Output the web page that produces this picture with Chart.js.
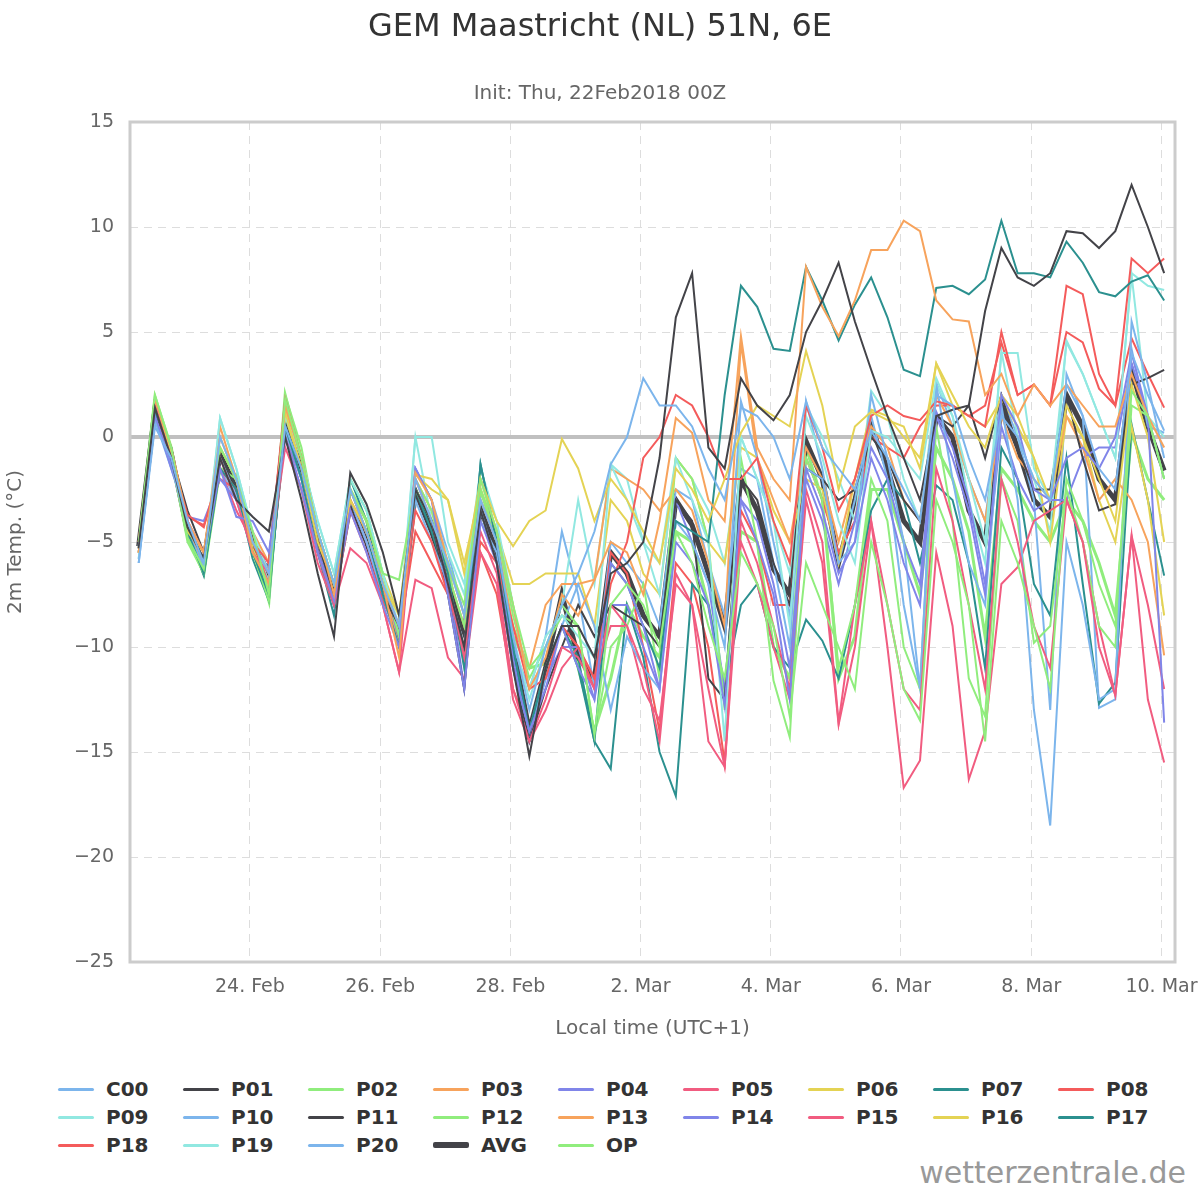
<!DOCTYPE html>
<html>
<head>
<meta charset="utf-8">
<script src="https://cdn.jsdelivr.net/npm/chart.js@4.4.0/dist/chart.umd.min.js"></script>
<style>
  body { margin: 0; background: #fff; font-family: "DejaVu Sans", sans-serif; }
  #wrap { position: relative; width: 1200px; height: 1200px; }
  #title { position: absolute; top: 6px; width: 1200px; text-align: center; font-size: 32px; color: #333; }
  #sub { position: absolute; top: 80px; width: 1200px; text-align: center; font-size: 20px; color: #666; }
  canvas { position: absolute; left: 0; top: 0; }
  #legend { position: absolute; left: 58px; top: 1078px; display: grid; grid-template-columns: repeat(9, 125px); row-gap: 6px; }
  .item { display: flex; align-items: center; font-weight: bold; font-size: 20px; color: #333; height: 22px; }
  .sw { width: 36px; margin-right: 12px; border-radius: 2px; }
  #credit { position: absolute; right: 14px; bottom: 10px; font-size: 30px; color: #999; }
</style>
</head>
<body>
<div id="wrap">
  <canvas id="c" width="1200" height="1045"></canvas>
  <div id="title">GEM Maastricht (NL) 51N, 6E</div>
  <div id="sub">Init: Thu, 22Feb2018 00Z</div>
  <div id="legend"></div>
  <div id="credit">wetterzentrale.de</div>
</div>
<script>
// hours since 22 Feb 00:00 local, 6-hourly from 07:00
const times = Array.from({length: 64}, (_, i) => 7 + 6 * i);
const tickHours = [48, 96, 144, 192, 240, 288, 336, 384];
const tickLabels = ['24. Feb', '26. Feb', '28. Feb', '2. Mar', '4. Mar', '6. Mar', '8. Mar', '10. Mar'];

const C00 = [-6,0.5,-1,-4,-6,0,-2,-5,-6.5,0.5,-1.5,-4.5,-7,-2.5,-4.5,-7,-9,-2,-4,-6,-8.5,-3,-5,-9.5,-13,-10,-8,-6.5,-4.5,-1.3,0,2.8,1.5,1.5,0.5,-1.5,-3,1.4,1,0,-2,1.7,-0.5,-1.5,-2.5,0.3,-1,-2.5,-4,2,1.5,-1,-3,1,0,-2,-3,2.5,1,-1.5,-2.5,4,2,0.3];
const P01 = [-5.3,1.4,-1,-4.3,-5.8,-1,-3,-3.8,-4.5,0,-3,-6.5,-9.5,-1.7,-3.2,-5.5,-8.5,-2.5,-4,-7,-10,-3.5,-6,-11,-15.2,-11,-9,-9,-10.5,-6.5,-6,-5,-1,5.7,7.8,-0.5,-1.5,2.8,1.5,0.8,2,5,6.5,8.3,5.5,3.2,1,-1,-3,1,1.3,1.5,6,9,7.6,7.2,7.8,9.8,9.7,9,9.8,12,10,7.8];
const P02 = [-5,2,-0.5,-4.8,-6.3,-0.5,-2,-4.5,-7.5,1.8,-1,-4.5,-7,-2.5,-4,-6.5,-6.8,-2.5,-4,-6,-8,-2,-4.5,-8,-11,-10,-8,-9,-14.2,-8,-7,-8,-10,-4.5,-6,-9,-11.5,-5.5,-7,-9,-13.3,-6,-8,-10,-12,-5,-8,-12,-13.5,-3,-5,-8,-14.5,-4,-6,-9,-12,-2,-4,-7,-9,2.2,1,-2];
const P03 = [-5.5,1.8,-0.5,-4,-5.5,0,-2,-5.5,-7,1.5,-1,-4.5,-7.5,-2.5,-4.5,-7,-10.5,-1.7,-3,-6,-8.5,-2,-4.5,-8,-12,-10.5,-7.5,-8.5,-6.8,-5,-5.5,-7.5,-4,0.9,0.2,-3,-4,4.8,-0.5,-2,-3,8.1,6.2,4.8,6.5,8.9,8.9,10.3,9.8,6.5,5.6,5.5,2,3,1,2.5,1.5,2.5,1.5,0.5,0.5,3,1,-0.5];
const P04 = [-5.2,1,-1.2,-4,-6,-1.5,-3.8,-4,-5.5,0,-2.5,-5.5,-7.8,-3.5,-5.5,-8,-10,-1.5,-3,-7.5,-12,-4,-6,-11,-14,-12,-9,-11,-12.5,-6,-7,-9,-12,-5,-6,-8,-12.8,-3,-5,-7.5,-12.5,-1.5,-3.5,-6.5,-5,-1,-3,-6,-8,1,-1,-3.5,-7.5,2,0.5,-2.5,-3,-1,-0.5,-1.5,0,4,1,-13.6];
const P05 = [-5,1.5,-1,-4,-5.5,-1,-3,-5.5,-6.5,0,-2.5,-5.5,-8,-3.5,-5.5,-8,-11.2,-2,-4,-7,-10.5,-4.5,-6.5,-12,-14.5,-12.5,-10,-10.5,-12,-8,-9,-11,-14.5,-6.5,-8,-12,-15.7,-4,-6,-9,-12,-3,-6,-13.7,-10,-4,-8,-12,-13,-1.5,-4,-8,-12,-2,-5,-9,-11,-3,-5,-10,-12.3,-4.7,-12.5,-15.5];
const P06 = [-5.5,1.8,-0.8,-4.5,-5.5,-0.5,-2,-5,-6.5,1.2,-1.5,-5,-7,-3,-4.5,-7,-8.5,-1.8,-2,-3,-6.5,-2,-4,-5.2,-4,-3.5,-0.1,-1.5,-4,-2,-3,-4.5,-6,-1.5,-2.5,-4,-2,0.2,1.5,1,0.5,4.1,1.5,-2.5,0.5,1.2,0.8,0.5,-1.5,3.5,2,0.5,-0.5,2,1,-1,-3,1.5,0,-2,-4,2.5,0,-5];
const P07 = [-5.3,1.2,-0.5,-4.5,-6.5,-1.5,-2.5,-5.5,-7.5,0.5,-2,-5.5,-8,-2.5,-4.5,-7.5,-10,-2.5,-4,-6.5,-11,-1.3,-5,-10,-14,-11,-9,-11,-14.5,-6,-7,-9,-11,-4,-4.5,-5,2,7.2,6.2,4.2,4.1,8.1,6.5,4.6,6.3,7.6,5.7,3.2,2.9,7.1,7.2,6.8,7.5,10.3,7.8,7.8,7.6,9.3,8.3,6.9,6.7,7.4,7.7,6.5];
const P08 = [-5,1.5,-1,-3.7,-4.3,-1.5,-2.5,-5,-6,1.8,-1,-4.5,-7,-3,-4.5,-7,-9,-3.5,-5,-7.5,-10,-5,-6,-9,-12,-11.5,-9,-10,-11.5,-7,-5,-1,0,2,1.5,0,-2,-2,-1,-4,-6,1.5,-0.5,-3.5,-2,1,1.5,1,0.8,1.7,1.5,1,0.5,5,2,2.5,1.5,7.2,6.8,3,1.5,8.5,7.8,8.5];
const P09 = [-5.5,1.8,-1,-4,-6,0.9,-1.5,-4.5,-6.5,1,-1,-4,-6.5,-2,-3.5,-6.5,-9,0,0,-5,-7,-2,-4,-8,-12,-9.5,-8.5,-9.5,-10.5,-1.3,-3,-5,-7.5,-1,-3,-5,-14.5,0,-2,-4,-9,1,-1,-4,-6,0.3,0,-1,-2,2.8,1,-2,-5,4,4,-1.5,-3,4.5,3,1,-1,7.8,7.2,7];
const P10 = [-6,0.8,-1.2,-4.5,-6.2,-1,-2.8,-5.5,-7,0.5,-2,-5.5,-8,-3,-5,-7.5,-10,-3,-5,-7,-10,-3.5,-6,-11,-14,-11.5,-9,-7,-9,-13,-9.5,-11,-12,-4,-5,-7,-10,1.7,-1,-5,-8.5,-1.5,-2,-6,-5,2,-1,-5,-12,2.5,-2,-6,-8,1.5,-3,-13,-18.5,-5,-8,-12.5,-12,5.5,2.5,-1];
const P11 = [-5.2,1.2,-0.8,-3.5,-5.5,-1,-2.5,-4.8,-6.5,0.5,-1.5,-5,-7.5,-3.2,-4.5,-7.5,-9,-2.5,-4,-7.5,-12,-3.5,-6,-11,-14.5,-12,-10,-8,-9.5,-8,-8.5,-9,-10,-3,-4,-11.5,-12.5,-2,-3,-6,-8,-1.5,-2,-3,-2.5,0,-1,-3,-4,1,0.5,1.5,-1,2,-0.5,-2.5,-2.5,2,-1,-3.5,-3.2,2.5,2.8,3.2];
const P12 = [-5.2,1.8,-1,-5,-6.5,-1.5,-2,-5.5,-7.8,2,-0.5,-4.5,-7,-2,-3.5,-6.5,-9.5,-2,-3.5,-6.5,-9,-2.5,-4.5,-8.5,-11.5,-10,-8.5,-9,-14.2,-10,-9,-7,-11.5,-1,-2,-5,-13,-1,-5,-11.6,-14.3,-1,-3,-11,-8,-2,-4,-10,-12,0.5,-4,-11.5,-13.3,-2,-4,-9.8,-9,-2.5,-5,-9,-10,1.5,1,-2];
const P13 = [-5.5,1.6,-1,-4.5,-6,0.5,-2,-4.5,-6,1.5,-1,-4.5,-7,-3,-4.5,-7,-10,-2,-3.5,-6.5,-9,-3,-5,-9,-11,-8,-7,-7,-6.8,-1.5,-2,-2.5,-3.5,-2.5,-3.5,-6,-9,4.5,-1,-3,-5,-0.5,-2,-5,-2,0.5,-0.5,-3,-4,2,0.5,-2,-4,1,-1,-2,-3,1,-0.5,-3,-2,-3,-5,-10.4];
const P14 = [-5.5,1,-1.5,-3.8,-4,-2,-3,-5,-6.3,0,-2,-5,-8,-3,-5,-7.5,-9.5,-1.5,-3,-6.5,-12,-3,-5,-10.5,-14.5,-11.5,-10,-10,-12.5,-8,-8,-10,-12,-3,-5,-7,-12,-3,-4,-7,-11,-2,-4,-7,-4,-0.5,-2,-5,-7,1.2,-0.5,-3,-7,0.5,-2,-3.5,-3,-3,-1,-0.5,-0.5,3.5,1,-2];
const P15 = [-5.5,1.2,-1.2,-4,-6,-1.5,-3.5,-5,-6,-0.5,-2.5,-6,-8,-5.3,-6,-8,-11.2,-6.8,-7.2,-10.5,-11.5,-5.5,-7,-12.5,-14.5,-13,-11,-10,-11.5,-9,-9,-12,-13.5,-7,-8,-14.5,-15.7,-5,-7,-10,-12.5,-2.5,-5,-13.6,-8,-4,-10,-16.7,-15.4,-5.5,-9,-16.3,-14,-7,-6.2,-4,-3.5,-3,-5,-9,-12.3,-4.7,-8,-12];
const P16 = [-5.3,1.5,-1,-4.8,-6,-0.5,-2,-5.3,-7.2,1,-1.5,-5,-7.5,-2.5,-4,-6.5,-8.5,-1.8,-2.5,-3,-6,-2.5,-4.5,-7,-7,-6.5,-6.5,-6.5,-9,-3,-4,-6.5,-7.5,-1,-2,-5,-6,-0.5,-1,-3.5,-5,-2,-2.5,-6,-2,1.3,1,0,-1,3.5,1.5,1,0.5,1.8,0.5,-1,-5,1,0,-3,-5,0.5,-3,-8.5];
const P17 = [-5.5,1.5,-0.5,-4.5,-6.6,-1,-2.5,-5.8,-7.8,1,-1.5,-5.5,-8.5,-2,-4,-7.5,-9.8,-2.5,-4.5,-7,-10.5,-1.3,-5,-10.5,-14,-11,-9,-10.5,-14.5,-15.8,-8,-10.5,-15,-17.1,-7,-8,-12,-8,-7,-10,-11,-8.7,-9.7,-11.5,-8,-3.5,-2,-3,-6,-2.3,-3,-6,-11,-0.5,-2,-7,-8.5,-1,-7,-12.7,-11.7,0.6,-3,-6.6];
const P18 = [-5.3,1.5,-1,-3.8,-4.2,-2,-2.5,-5,-7,1.5,-1,-5,-7.8,-3,-5,-7.8,-9.5,-4.5,-6,-7.5,-10.5,-5.5,-7.5,-12,-14,-11,-9,-10,-12,-5.5,-6.5,-10,-14,-6,-7,-10,-15.5,-3.5,-5,-8,-8,-1,-3,-5.5,-4,0,-0.5,-1,0.5,1.5,1.5,1,1.5,4.5,2,2.5,1.5,5,4.5,2.3,1.5,4.7,3,1.4];
const P19 = [-5.8,1.8,-1,-4,-6.3,0.9,-1.5,-4.5,-7,1.3,-1,-4,-6.5,-2,-3.5,-6.5,-9.5,0,-4,-5.5,-7.5,-1.5,-4,-9.5,-12.5,-10,-8,-3,-7,-1.3,-2,-5,-6,-1,-2,-3.5,-6,0,-2,-4,-6.5,1.5,0,-2,-4,2.2,1,-2,-4,2.5,1,-3,-6,4.1,0,-2,-4.5,4.6,3,1,-1,7.7,1,0];
const P20 = [-5.8,0.8,-1.5,-4,-6,-1.5,-3,-5.5,-6.8,0.3,-2,-5.5,-8,-3,-5,-7.5,-10,-1.5,-3,-5.5,-8.5,-4,-5.5,-10,-12,-9.5,-4.5,-7.5,-12,-5,-6,-7,-9,-2.5,-3,-6,-8.5,-1.5,-2,-6,-10,1.7,-1.5,-6,-3,1,-2,-8,-12,2.6,0.5,-2,-4,2,0,-3,-13,3,1,-12.9,-12.5,4.2,0.5,0.2];
const AVG = [-5.2,1.3,-0.8,-4.5,-6,-0.8,-2.5,-5,-6.5,0.8,-1.5,-5,-7.5,-3.2,-5,-7.5,-9.5,-2.6,-4.5,-7,-9.3,-3.4,-5.5,-10,-14,-11,-7.5,-10.5,-11.5,-5.5,-6.5,-8.5,-9.5,-3,-4.2,-6.5,-9,-2,-3.5,-6.3,-7.5,-0.2,-2,-6,-3,0.5,-1.5,-4,-5,1,0,-3.5,-5,1.5,-0.5,-3,-3.8,2,0.5,-2,-3,3.2,0.5,-1.6];
const OP = [-5.2,1.9,-0.5,-4.7,-6.5,-1.5,-1.8,-5,-7.8,2,-1,-5,-7.5,-2.5,-4,-7,-9.8,-2.5,-4,-6,-10.8,-2.5,-5,-9.5,-11,-10.8,-7.5,-11,-14,-11.5,-8,-9.5,-10.5,-4.5,-5,-8,-12,-4.5,-5,-10,-11.5,-0.5,-3,-11.5,-9.5,-2.5,-2.5,-5,-7.5,-0.5,-2,-4.5,-9.5,-1.5,-2.5,-4,-5,-3,-4,-6,-8.5,0.2,-2,-3];

const palette = ['#7cb5ec','#434348','#90ed7d','#f7a35c','#8085e9','#f15c80','#e4d354','#2b908f','#f45b5b','#91e8e1'];
const members = [
  ['C00', C00], ['P01', P01], ['P02', P02], ['P03', P03], ['P04', P04], ['P05', P05],
  ['P06', P06], ['P07', P07], ['P08', P08], ['P09', P09], ['P10', P10], ['P11', P11],
  ['P12', P12], ['P13', P13], ['P14', P14], ['P15', P15], ['P16', P16], ['P17', P17],
  ['P18', P18], ['P19', P19], ['P20', P20]
];

const datasets = members.map(([name, vals], i) => ({
  label: name,
  data: vals.map((v, j) => ({x: times[j], y: v})),
  borderColor: palette[i % 10],
  borderWidth: 2,
  pointRadius: 0,
  tension: 0
}));
datasets.push({label: 'AVG', data: AVG.map((v, j) => ({x: times[j], y: v})), borderColor: '#434348', borderWidth: 5, pointRadius: 0, tension: 0});
datasets.push({label: 'OP', data: OP.map((v, j) => ({x: times[j], y: v})), borderColor: '#90ed7d', borderWidth: 3, pointRadius: 0, tension: 0});

// Legend
const legend = document.getElementById('legend');
datasets.forEach(ds => {
  const item = document.createElement('div');
  item.className = 'item';
  const sw = document.createElement('span');
  sw.className = 'sw';
  sw.style.background = ds.borderColor;
  sw.style.height = (ds.label === 'AVG' ? 6 : 3) + 'px';
  item.appendChild(sw);
  item.appendChild(document.createTextNode(ds.label));
  legend.appendChild(item);
});

const framePlugin = {
  id: 'frame',
  beforeDatasetsDraw(chart) {
    const {ctx, chartArea: a, scales: {y}} = chart;
    const y0 = y.getPixelForValue(0);
    ctx.save();
    ctx.strokeStyle = '#c0c0c0';
    ctx.lineWidth = 4;
    ctx.beginPath();
    ctx.moveTo(a.left, y0);
    ctx.lineTo(a.right, y0);
    ctx.stroke();
    ctx.restore();
  },
  afterDatasetsDraw(chart) {
    const {ctx, chartArea: a} = chart;
    ctx.save();
    ctx.strokeStyle = '#cccccc';
    ctx.lineWidth = 3;
    ctx.strokeRect(a.left, a.top, a.right - a.left, a.bottom - a.top);
    ctx.restore();
  }
};

new Chart(document.getElementById('c'), {
  type: 'line',
  data: {datasets},
  options: {
    responsive: false,
    animation: false,
    layout: {padding: {top: 122, right: 25, left: 0, bottom: 0}},
    plugins: {legend: {display: false}, tooltip: {enabled: false}},
    scales: {
      x: {
        type: 'linear',
        min: 3.8,
        max: 389,
        afterBuildTicks: s => { s.ticks = tickHours.map(v => ({value: v})); },
        afterFit: s => { s.height = 83; s.paddingRight = 0; s.paddingLeft = 0; },
        ticks: {
          autoSkip: false, maxRotation: 0, color: '#666', padding: 14,
          font: {family: 'DejaVu Sans', size: 19},
          callback: v => tickLabels[tickHours.indexOf(v)]
        },
        grid: {color: '#dddddd', lineWidth: 1, drawTicks: false},
        border: {display: false, dash: [8, 6]},
        title: {display: true, text: 'Local time (UTC+1)', color: '#666', font: {family: 'DejaVu Sans', size: 20}, padding: {top: 4}}
      },
      y: {
        min: -25,
        max: 15,
        afterFit: s => { s.width = 130; },
        ticks: {stepSize: 5, color: '#666', padding: 16, font: {family: 'DejaVu Sans', size: 19},
          callback: v => (v < 0 ? '\u2212' + Math.abs(v) : v)},
        grid: {color: '#dddddd', lineWidth: 1, drawTicks: false},
        border: {display: false, dash: [8, 6]},
        title: {display: true, text: '2m Temp. (°C)', color: '#666', font: {family: 'DejaVu Sans', size: 20}}
      }
    }
  },
  plugins: [framePlugin]
});
</script>
</body>
</html>
